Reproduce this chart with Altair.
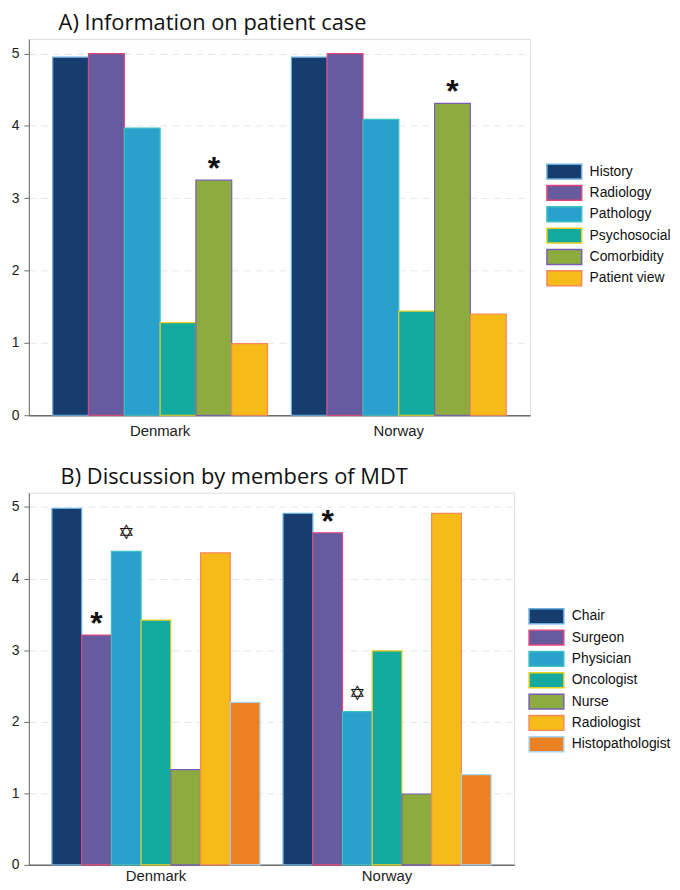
import altair as alt
import pandas as pd

countries = ["Denmark", "Norway"]

cats_a = ["History", "Radiology", "Pathology", "Psychosocial", "Comorbidity", "Patient view"]
dk_a = [4.95, 5.00, 3.97, 1.28, 3.25, 0.99]
no_a = [4.95, 5.00, 4.09, 1.44, 4.31, 1.40]
marks_a = ["", "", "", "", "*", ""]

cats_b = ["Chair", "Surgeon", "Physician", "Oncologist", "Nurse", "Radiologist", "Histopathologist"]
dk_b = [4.98, 3.21, 4.38, 3.42, 1.33, 4.36, 2.27]
no_b = [4.91, 4.64, 2.14, 2.99, 0.99, 4.91, 1.26]
marks_b = ["", "*", "\u2721", "", "", "", ""]

fill_a = ["#173d6f", "#665b9f", "#2aa0cd", "#15aaa0", "#8dac3f", "#f6ba19"]
stroke_a = ["#6aaee0", "#e2457a", "#3cc0c0", "#e8d020", "#7a5fb0", "#f5875a"]
fill_b = ["#173d6f", "#665b9f", "#2aa0cd", "#15aaa0", "#8dac3f", "#f6ba19", "#ec8124"]
stroke_b = ["#6aaee0", "#e2457a", "#3cc0c0", "#e8d020", "#7a5fb0", "#f5875a", "#a8d4f0"]


def frame(cats, dk, no, marks):
    rows = []
    for c, v, m in zip(cats, dk, marks):
        rows.append({"country": "Denmark", "cat": c, "value": v, "mark": m})
    for c, v, m in zip(cats, no, marks):
        rows.append({"country": "Norway", "cat": c, "value": v, "mark": m})
    return pd.DataFrame(rows)


# 35x15 swatch, drawn to the right of a 15px unit box
RECT = "M-1,-1H3.667V1H-1Z"


def panel(df, cats, fills, strokes, title, width, height, legend_x, legend_y, title_dx, xpad):
    base = alt.Chart(df)
    x = alt.X("country:N", sort=countries, title=None,
              scale=alt.Scale(paddingInner=0.1, paddingOuter=0.1),
              axis=alt.Axis(labelAngle=0, ticks=False, domainColor="#6b6b6b", domainWidth=1.5,
                            labelFont="Arial", labelFontSize=15, labelColor="#222", labelPadding=xpad))
    xo = alt.XOffset("cat:N", sort=cats, scale=alt.Scale(paddingInner=0, paddingOuter=0))
    y = alt.Y("value:Q", title=None,
              scale=alt.Scale(domain=[0, 5.2], nice=False),
              axis=alt.Axis(values=[0, 1, 2, 3, 4, 5], tickSize=5, tickColor="#6b6b6b",
                            domainColor="#6b6b6b", labelFont="Arial", labelFontSize=14,
                            labelColor="#222", grid=True, gridColor="#e6e6e6", gridDash=[7, 5],
                            labelPadding=5))
    legend = alt.Legend(title=None, orient="none", legendX=legend_x, legendY=legend_y,
                        symbolType=RECT, symbolSize=225, symbolStrokeWidth=1.5,
                        labelFont="Arial", labelFontSize=14, labelColor="#111",
                        labelOffset=27, rowPadding=0.5)
    bars = base.mark_bar(strokeWidth=1.2).encode(
        x=x, xOffset=xo, y=y,
        fill=alt.Fill("cat:N", sort=cats, scale=alt.Scale(domain=cats, range=fills), legend=legend),
        stroke=alt.Stroke("cat:N", sort=cats, scale=alt.Scale(domain=cats, range=strokes), legend=legend),
    )
    star = base.transform_filter("datum.mark == '*'").mark_text(
        fontSize=32, fontWeight="bold", font="Liberation Sans", baseline="alphabetic", dy=-1, color="#111"
    ).encode(x=x, xOffset=xo, y=y, text="mark:N")
    david = base.transform_filter("datum.mark == '\u2721'").mark_text(
        fontSize=20, font="DejaVu Sans", baseline="alphabetic", dy=-12, color="#111"
    ).encode(x=x, xOffset=xo, y=y, text="mark:N")
    return alt.layer(bars, star, david).properties(
        width=width, height=height,
        title=alt.TitleParams(title, anchor="start", frame="group", dx=title_dx, font="Open Sans",
                              fontSize=22, fontWeight="normal", color="#111", offset=4),
    ).resolve_scale(fill="independent", stroke="independent")


df_a = frame(cats_a, dk_a, no_a, marks_a)
df_b = frame(cats_b, dk_b, no_b, marks_b)

pa = panel(df_a, cats_a, fill_a, stroke_a, "A) Information on patient case", 505, 379, 521, 125, 30, 8)
pb = panel(df_b, cats_b, fill_b, stroke_b, "B) Discussion by members of MDT", 489, 375, 503, 116, 32, 4)

chart = alt.vconcat(pa, pb, spacing=26).resolve_scale(
    fill="independent", stroke="independent", x="independent", xOffset="independent"
).resolve_legend(fill="independent", stroke="independent").configure_view(stroke=None).configure(
    padding={"left": 2, "top": 0, "right": 0, "bottom": 0}
)

chart.save("out.html", embed_options={"renderer": "svg", "actions": False})
